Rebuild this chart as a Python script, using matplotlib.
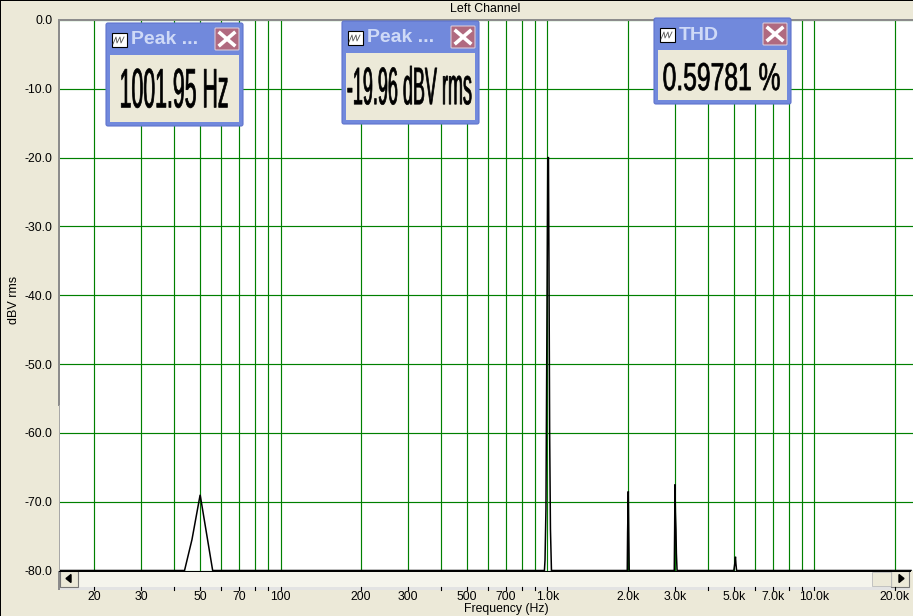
import numpy as np
import matplotlib
matplotlib.use("Agg")
import matplotlib.pyplot as plt
from matplotlib.patches import Rectangle, FancyBboxPatch
from matplotlib.patheffects import AbstractPathEffect
from matplotlib.transforms import Affine2D

W, H = 913, 616
BG = "#ECE9D8"
GREEN = "#008000"

plt.rcParams["font.family"] = ["Liberation Sans", "DejaVu Sans"]

title = "Left Channel"
xlabel = "Frequency (Hz)"
ylabel = "dBV rms"
y_ticks = [0, -10, -20, -30, -40, -50, -60, -70, -80]
y_labels = ["0.0", "-10.0", "-20.0", "-30.0", "-40.0", "-50.0", "-60.0", "-70.0", "-80.0"]
x_grid = [20, 30, 40, 50, 60, 70, 80, 90, 100, 200, 300, 400, 500, 600, 700, 800, 900,
          1000, 2000, 3000, 4000, 5000, 6000, 7000, 8000, 9000, 10000, 20000]
x_labelled = [20, 30, 50, 70, 100, 200, 300, 500, 700, 1000, 2000, 3000, 5000, 7000, 10000, 20000]
x_labels = ["20", "30", "50", "70", "100", "200", "300", "500", "700", "1.0k", "2.0k", "3.0k",
            "5.0k", "7.0k", "10.0k", "20.0k"]

freq = [15, 43.7, 46.6, 50, 55.7, 900, 974, 979, 987, 996, 1002.6, 1008.6, 1013, 1019, 1026, 1035,
        1990, 1996, 2008, 2016, 2024, 2985, 2995, 3003, 3015, 3029, 3040, 3058,
        4990, 5030, 5060, 5080, 5110, 23000]
level = [-80, -80, -75.5, -69, -80, -80, -80, -78.5, -71, -42, -20, -20, -35.5, -60, -74, -80,
         -80, -74.5, -68.5, -74.5, -80, -80, -74, -67.5, -71.5, -74, -77.5, -80,
         -80, -79, -78, -79, -80, -80]

meter_heads = ["Peak ...", "Peak ...", "THD"]
meter_values = ["1001.95 Hz", "-19.96 dBV rms", "0.59781 %"]

# meter window layout: left, top, width, height, value centre, value width, apparent font size
meter_left = [106, 342, 654]
meter_top = [23, 21, 18]
meter_w = [137, 137, 137]
meter_h = [103, 103, 86]
val_cx = [174, 409.5, 721.5]
val_cy = [93, 91, 79]
val_w = [109, 125, 118]
val_fs = [40, 38, 28]

fig = plt.figure(figsize=(W / 100, H / 100), dpi=100, facecolor=BG)


class Stretch(AbstractPathEffect):
    """Stretches a text vertically about a centre, for the tall, condensed meter readouts."""

    def __init__(self, sy, cy, lw=0.5):
        super().__init__()
        self.sy, self.cy, self.lw = sy, cy, lw

    def draw_path(self, renderer, gc, tpath, affine, rgbFace=None):
        a = affine + Affine2D().translate(0, -self.cy).scale(1, self.sy).translate(0, self.cy)
        gc0 = renderer.new_gc()
        gc0.copy_properties(gc)
        gc0.set_linewidth(self.lw)
        renderer.draw_path(gc0, tpath, a, rgbFace)
        gc0.restore()


def px(x, y, w, h):
    return [x / W, 1 - (y + h) / H, w / W, h / H]


ax = fig.add_axes(px(59, 20, 854, 550.5), facecolor="white")
ax.set_xscale("log")
ax.set_xlim(14.8, 23400)
ax.set_ylim(-80, 0)
ax.minorticks_off()
for f in x_grid:
    ax.axvline(f, color=GREEN, lw=0.85, zorder=1)
for v in y_ticks:
    ax.axhline(v, color=GREEN, lw=0.85, zorder=1)
ax.plot(freq, level, color="black", lw=1.1, zorder=3, solid_joinstyle="miter")
ax.set_xticks([])
ax.set_yticks(y_ticks)
ax.set_yticklabels(y_labels, fontsize=8.8)
ax.tick_params(axis="y", length=0, pad=4.5)
for s in ax.spines.values():
    s.set_visible(False)

ov = fig.add_axes([0, 0, 1, 1], facecolor="none")
ov.set_xlim(0, W)
ov.set_ylim(H, 0)
ov.axis("off")


def rect(x, y, w, h, **k):
    ov.add_patch(Rectangle((x, y), w, h, **k))


# window edges and plot frame
rect(0, 0, W, 1, color="black", lw=0)
rect(0, 0, 1, H, color="black", lw=0)
rect(58, 18.5, 855, 2, color="#8c8c8c", lw=0)
rect(58, 18.5, 2, 387, color="#8c8c8c", lw=0)
rect(58.5, 405, 1, 166, color="#a8a8a8", lw=0)
ov.text(485.5, 9, title, fontsize=8.9, ha="center", va="center")
ov.text(14, 300, ylabel, fontsize=9, rotation=90, ha="center", va="center")

# scrollbar
rect(59, 571, 851, 16, facecolor="#F5F4EC", edgecolor="none")
rect(59, 587, 851, 3, facecolor="#E3E3E3", edgecolor="none")
ov.plot([59, 910], [570.5, 570.5], color="black", lw=0.72)
rect(58, 571, 2, 19, color="#8c8c8c", lw=0)
for bx, mark in [(60, [(66, 578.5), (71, 574.5), (71, 582.5)]),
                 (891, [(904, 578.5), (899, 574.5), (899, 582.5)])]:
    rect(bx, 571, 18, 16, facecolor=BG, edgecolor="#777777", lw=0.8)
    ov.fill(*zip(*mark), color="black")
rect(872, 572, 19, 14, facecolor=BG, edgecolor="#BBBBBB", lw=0.6)

# frequency ticks below the scrollbar, positioned through the data scale
for f in x_grid:
    xd = ax.transData.transform((f, -80))[0]
    ov.plot([xd, xd], [587, 590], color="black", lw=0.8)
for f, lab in zip(x_labelled, x_labels):
    xd = ax.transData.transform((f, -80))[0]
    ov.text(xd, 597, lab, fontsize=8.8, ha="center", va="center")
ov.text(506, 609, xlabel, fontsize=8.8, ha="center", va="center")

# floating meters
for i, (head, val) in enumerate(zip(meter_heads, meter_values)):
    x, y, w, h = meter_left[i], meter_top[i], meter_w[i], meter_h[i]
    ov.add_patch(FancyBboxPatch((x + 2, y + 2), w - 4, h - 4, boxstyle="round,pad=2",
                                facecolor="#7189DC", edgecolor="#5F73CC", lw=0.8))
    rect(x + 4, y + 32, w - 8, h - 36, facecolor=BG, edgecolor="none")
    rect(x + 6, y + 10, 15, 14, facecolor="white", edgecolor="black", lw=0.8)
    ov.plot(np.array([7, 10, 11, 14, 15, 18]) + x,
            np.array([21, 14, 20, 14, 20, 14]) + y, color="#555555", lw=0.6)
    ov.text(x + 25, y + 17, head, fontsize=14, fontweight="bold", color="#CFDAF7",
            ha="left", va="center")
    ov.add_patch(FancyBboxPatch((x + 110, y + 6), 22, 20, boxstyle="round,pad=1",
                                facecolor="#B06A80", edgecolor="#D8C8D8", lw=0.8))
    ov.plot([x + 114, x + 128], [y + 10, y + 22], color="white", lw=2.6)
    ov.plot([x + 114, x + 128], [y + 22, y + 10], color="white", lw=2.6)
    t = ov.text(val_cx[i], val_cy[i], val, fontsize=20, ha="center", va="center", color="black")
    fig.canvas.draw()
    fs = 20 * val_w[i] / t.get_window_extent().width
    t.set_fontsize(fs)
    t.set_path_effects([Stretch(val_fs[i] / fs, H - val_cy[i])])

fig.savefig("out.png", dpi=100, facecolor=BG)
